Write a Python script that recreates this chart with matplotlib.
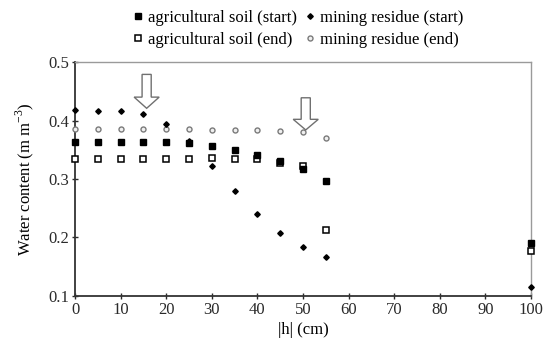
import numpy as np
import matplotlib
matplotlib.use('Agg')
import matplotlib.pyplot as plt
from matplotlib.patches import FancyArrow

plt.rcParams['font.family'] = ['Liberation Serif', 'DejaVu Serif']
plt.rcParams['mathtext.fontset'] = 'custom'
plt.rcParams['mathtext.rm'] = 'Liberation Serif'

# suction |h| (cm)
h = [0, 5, 10, 15, 20, 25, 30, 35, 40, 45, 50, 55, 100]

# water content (m m-3)
agri_start = [0.364, 0.364, 0.364, 0.363, 0.363, 0.361, 0.357, 0.349, 0.341, 0.330, 0.317, 0.297, 0.191]
agri_end = [0.335, 0.335, 0.335, 0.335, 0.335, 0.335, 0.336, 0.335, 0.334, 0.328, 0.323, 0.212, 0.177]
mine_start = [0.418, 0.417, 0.416, 0.411, 0.395, 0.365, 0.323, 0.279, 0.240, 0.207, 0.183, 0.166, 0.116]
mine_end = [0.386, 0.386, 0.386, 0.386, 0.386, 0.386, 0.384, 0.384, 0.384, 0.383, 0.380, 0.370, 0.186]

# arrows marking the pointed positions
arrows = [(15.7, 0.479, 0.421), (50.6, 0.439, 0.384)]

fig = plt.figure(figsize=(5.44, 3.49), dpi=100)
ax = fig.add_axes([0.138, 0.152, 0.838, 0.670])

ax.plot(h, mine_end, linestyle='none', marker='o', ms=3.6, mfc='#f0f0f0', mec='#7a7a7a', mew=1.0,
        label='mining residue (end)', zorder=3, clip_on=False)
ax.plot(h, agri_end, linestyle='none', marker='s', ms=4.6, mfc='white', mec='black', mew=1.1,
        label='agricultural soil (end)', zorder=4, clip_on=False)
ax.plot(h, agri_start, linestyle='none', marker='s', ms=4.8, color='black',
        label='agricultural soil (start)', zorder=5, clip_on=False)
ax.plot(h, mine_start, linestyle='none', marker='D', ms=2.8, color='black',
        label='mining residue (start)', zorder=6, clip_on=False)

for x, ytop, ytip in arrows:
    hl = (ytop - ytip) * 0.33
    ar = FancyArrow(x, ytop, 0, -(ytop - ytip), width=2.0, head_width=5.5, head_length=hl,
                    length_includes_head=True, fc='white', ec='#707070', lw=1.0, zorder=7)
    ax.add_patch(ar)

ax.set_xlim(0, 100)
ax.set_ylim(0.1, 0.5)
ax.set_xticks(np.arange(0, 101, 10))
ax.set_yticks([0.1, 0.2, 0.3, 0.4, 0.5])
ax.set_yticklabels(['0.1', '0.2', '0.3', '0.4', '0.5'])
ax.tick_params(axis='both', direction='inout', length=4, width=1, labelsize=12, colors='#2a2a2a')
ax.tick_params(axis='x', pad=2)
ax.tick_params(axis='y', pad=2)

for s in ['left', 'bottom']:
    ax.spines[s].set_color('#333333')
    ax.spines[s].set_linewidth(1.3)
for s in ['top', 'right']:
    ax.spines[s].set_color('#9a9a9a')
    ax.spines[s].set_linewidth(1.0)

ax.set_xlabel('|h| (cm)', fontsize=12, labelpad=3)
ax.set_ylabel('Water content (m m$^{-3}$)', fontsize=12, labelpad=9)

hs, ls = ax.get_legend_handles_labels()
order = [2, 1, 3, 0]
fig.legend([hs[i] for i in order], [ls[i] for i in order], ncol=2, loc='upper center',
           bbox_to_anchor=(0.545, 1.0), frameon=False, fontsize=12, handletextpad=0.1,
           columnspacing=0.3, labelspacing=0.35, handlelength=1.0, borderaxespad=0.2)

fig.savefig('out.png', dpi=100)
